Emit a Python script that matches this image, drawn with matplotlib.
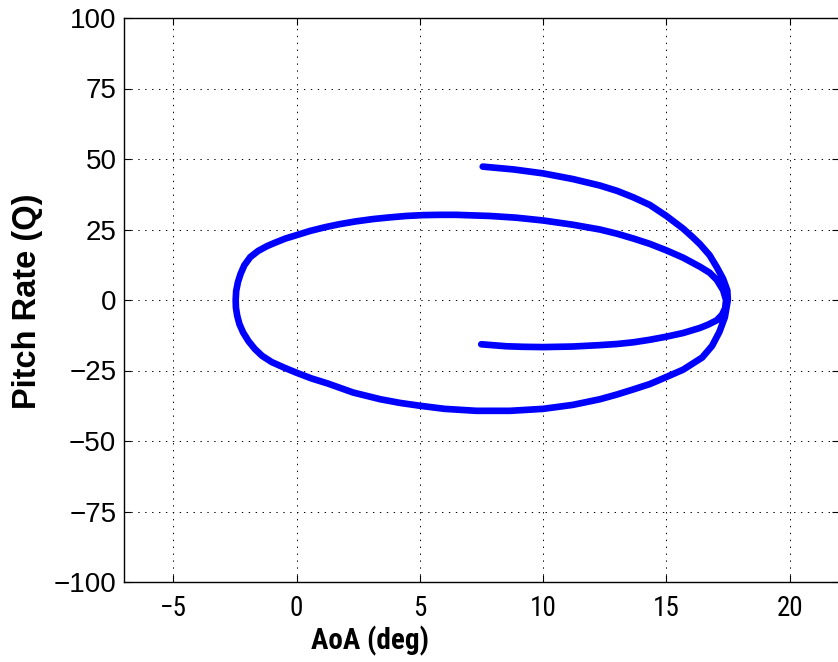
import matplotlib
matplotlib.use("Agg")
import matplotlib.pyplot as plt
from matplotlib import font_manager

# ---- data (AoA in deg, pitch rate Q), in trajectory order ----
aoa = [7.55, 8.8, 10.0, 11.2, 12.3, 13.0, 13.66, 14.33, 15.0, 15.68, 16.05, 16.36,
       16.75, 17.04, 17.3, 17.47, 17.49,
       17.37, 17.15, 16.85, 16.45, 15.68, 15.0, 14.33, 13.66, 13.0, 12.3, 11.2, 10.0,
       8.65, 7.29, 6.0, 5.0, 4.2, 3.4, 2.29, 1.26, 0.6, 0.0, -0.5, -1.01, -1.4, -1.69,
       -1.95, -2.17, -2.32, -2.41, -2.46, -2.47,
       -2.45, -2.38, -2.27, -2.12, -1.88, -1.56, -1.2, -0.88, -0.45, 0.0, 0.55, 1.15,
       1.75, 2.42, 3.1, 3.78, 4.45, 5.13, 5.8, 6.48, 7.15, 7.84, 8.9, 10.0, 11.2, 12.3,
       13.0, 13.66, 14.33, 15.0, 15.68, 16.36, 16.75, 17.04, 17.3, 17.42,
       17.38, 17.25, 17.04, 16.7, 16.36, 15.68, 15.0, 14.33, 13.66, 13.0, 12.3, 11.2,
       10.0, 9.2, 8.5, 7.49]
q = [47.3, 46.3, 44.9, 42.9, 40.6, 38.7, 36.4, 33.7, 29.8, 25.3, 22.4, 19.8,
     15.9, 11.7, 7.5, 3.4, 0.0,
     -6.1, -11.3, -16.3, -20.4, -24.7, -27.3, -29.8, -31.7, -33.5, -35.2, -37.2, -38.6,
     -39.3, -39.3, -38.6, -37.5, -36.5, -35.2, -32.8, -29.6, -27.8, -25.8, -24.0, -22.0,
     -19.8, -17.4, -14.6, -11.5, -8.5, -5.5, -2.7, 0.0,
     3.2, 6.3, 9.3, 12.3, 15.2, 17.4, 19.1, 20.3, 21.8, 23.0, 24.5, 25.8,
     26.9, 27.9, 28.7, 29.3, 29.8, 30.1, 30.2, 30.2, 30.0, 29.8, 29.2, 28.2, 26.7, 25.0,
     23.5, 21.8, 19.9, 17.6, 15.0, 11.8, 9.7, 7.2, 3.5, 0.0,
     -3.0, -5.3, -7.2, -8.7, -9.9, -11.7, -13.0, -14.1, -15.0, -15.6, -16.0, -16.5,
     -16.7, -16.6, -16.4, -15.7]

xticks = [-5, 0, 5, 10, 15, 20]
yticks = [-100, -75, -50, -25, 0, 25, 50, 75, 100]
x_label = "AoA (deg)"
y_label = "Pitch Rate (Q)"

names = {f.name for f in font_manager.fontManager.ttflist}
narrow = None
for cand in ["Liberation Sans Narrow", "Arial Narrow", "Roboto Condensed",
             "Open Sans Condensed", "Nimbus Sans Narrow"]:
    if cand in names:
        narrow = cand
        break

plt.rcParams["font.family"] = ["Liberation Sans", "DejaVu Sans"]

fig = plt.figure(figsize=(8.38, 6.62), dpi=100)
ax = fig.add_axes([124 / 838, 1 - 582 / 662, 715 / 838, 564 / 662])

ax.plot(aoa, q, color=(0, 0, 1), lw=4.8, solid_capstyle="round",
        solid_joinstyle="round")

ax.set_xlim(-7, 22)
ax.set_ylim(-100, 100)
ax.set_xticks(xticks)
ax.set_yticks(yticks)
ax.grid(True, color="k", lw=0.7, linestyle=(0, (1.4, 5.7)))
ax.set_axisbelow(True)

ax.tick_params(direction="in", length=5, width=0.8, top=True, right=True,
               colors="k")
ax.tick_params(axis="y", labelsize=20, pad=5.5)
if narrow:
    ax.tick_params(axis="x", labelsize=19.5, pad=9)
    for lab in ax.get_xticklabels():
        lab.set_family([narrow, "DejaVu Sans"])
    xl_font = dict(fontsize=21, family=[narrow, "DejaVu Sans"])
else:
    ax.tick_params(axis="x", labelsize=16.5, pad=9.5)
    xl_font = dict(fontsize=18)
for s in ax.spines.values():
    s.set_linewidth(1.0)

ax.set_xlabel(x_label, fontweight="bold", va="center", **xl_font)
ax.xaxis.set_label_coords((370 - 124) / 715, (582 - 641) / 564)
ax.set_ylabel(y_label, fontsize=23.5, fontweight="bold", va="center")
ax.yaxis.set_label_coords((28 - 124) / 715, (582 - 301) / 564)

fig.savefig("out.png", dpi=100)
